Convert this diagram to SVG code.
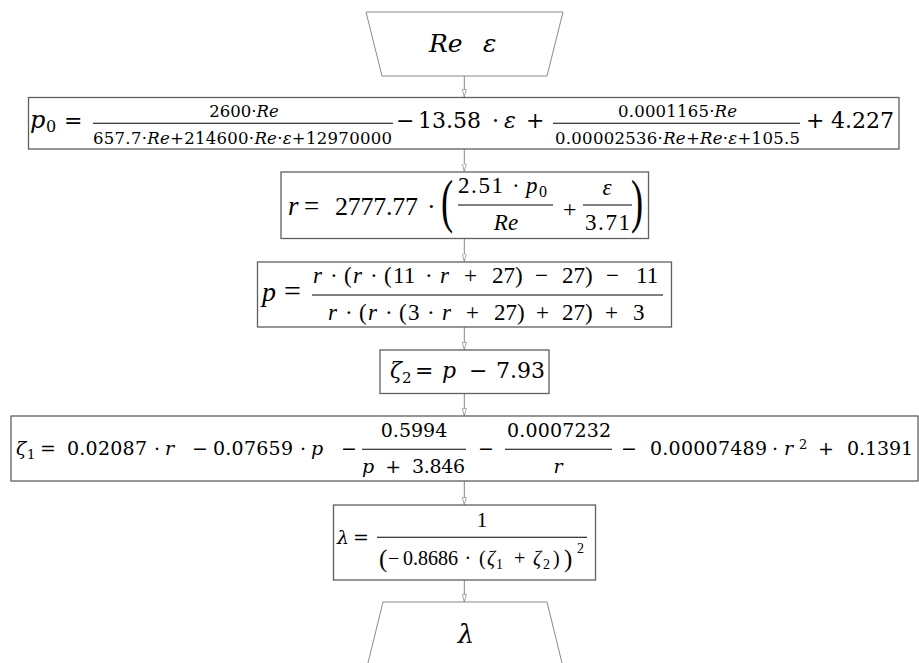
<svg xmlns="http://www.w3.org/2000/svg" width="919" height="663" viewBox="0 0 919 663">
<style>
text{font-family:"DejaVu Serif","Liberation Serif",serif;fill:#000;white-space:pre}
.l{font-family:"Liberation Serif","Times New Roman",serif}
.i{font-style:italic}
.box{fill:#fff;stroke:#5f5f5f;stroke-width:1.3}
.trap{fill:#fff;stroke:#8a8a8a;stroke-width:1}
.bar{stroke:#000;stroke-width:1.1}
.c{stroke:#858585;stroke-width:1;fill:none;marker-end:url(#ah)}
</style>
<defs>
<marker id="ah" viewBox="0 0 8 5" refX="8" refY="2.5" markerWidth="8" markerHeight="5" orient="auto" markerUnits="userSpaceOnUse">
<path d="M0.4,0.4 L7.6,2.5 L0.4,4.6 Z" fill="#fff" stroke="#858585" stroke-width="0.7"/>
</marker>
</defs>
<rect width="919" height="663" fill="#fff"/>

<g id="connectors">
<line class="c" x1="464.3" y1="76" x2="464.3" y2="97"/>
<line class="c" x1="464.3" y1="149" x2="464.3" y2="171.5"/>
<line class="c" x1="464.3" y1="238.5" x2="464.3" y2="261.5"/>
<line class="c" x1="464.3" y1="327" x2="464.3" y2="350"/>
<line class="c" x1="464.3" y1="393.5" x2="464.3" y2="416"/>
<line class="c" x1="464.3" y1="481" x2="464.3" y2="505"/>
<line class="c" x1="464.3" y1="580" x2="464.3" y2="602"/>
</g>

<g id="input">
<polygon class="trap" points="366,12 563,12 547,76 382,76"/>
<text font-size="25" y="52"><tspan class="i" x="429">Re</tspan><tspan class="i" x="483">ε</tspan></text>
</g>

<g id="p0">
<rect class="box" x="28.5" y="97.5" width="870.5" height="51.5"/>
<text font-size="24" y="128"><tspan class="i" x="30">p</tspan><tspan font-size="16" x="46" y="132">0</tspan><tspan font-size="22" x="64" y="128">=</tspan></text>
<text font-size="16.5" x="244" y="116.5" text-anchor="middle">2600·<tspan class="i">Re</tspan></text>
<line class="bar" x1="93" y1="123.3" x2="393" y2="123.3"/>
<text font-size="16.5" x="93" y="144" textLength="299" lengthAdjust="spacing">657.7·<tspan class="i">Re</tspan>+214600·<tspan class="i">Re</tspan>·<tspan class="i">ε</tspan>+12970000</text>
<text font-size="22" y="128"><tspan x="396">−</tspan><tspan x="418">13.58</tspan><tspan x="492">·</tspan><tspan class="i" x="504">ε</tspan><tspan x="526">+</tspan></text>
<text font-size="16.5" x="618" y="116.5" textLength="119" lengthAdjust="spacing">0.0001165·<tspan class="i">Re</tspan></text>
<line class="bar" x1="553" y1="123.3" x2="800" y2="123.3"/>
<text font-size="16.5" x="555" y="144" textLength="245" lengthAdjust="spacing">0.00002536·<tspan class="i">Re</tspan>+<tspan class="i">Re</tspan>·<tspan class="i">ε</tspan>+105.5</text>
<text font-size="22" y="128"><tspan x="806">+</tspan><tspan x="831">4.227</tspan></text>
</g>

<g id="r">
<rect class="box" x="281" y="172" width="367.5" height="66.5"/>
<text class="l" font-size="27" y="215"><tspan class="i" x="288">r</tspan><tspan x="304">=</tspan></text>
<text class="l" font-size="26" x="335" y="215" textLength="83" lengthAdjust="spacing">2777.77</text>
<text class="l" font-size="26" y="215"><tspan x="427">·</tspan></text>
<text class="l" font-size="28" transform="scale(1.3,2.12)" x="339.2" y="104.4">(</text>
<text class="l" font-size="23" x="458" y="193" textLength="45" lengthAdjust="spacing">2.51</text>
<text class="l" font-size="23" y="193"><tspan x="512">·</tspan><tspan class="i" x="526">p</tspan><tspan font-size="16" x="539" y="197">0</tspan></text>
<line class="bar" x1="458" y1="205" x2="553" y2="205"/>
<text class="l i" font-size="23" x="506" y="230" text-anchor="middle">Re</text>
<text class="l" font-size="24" x="563" y="217">+</text>
<line class="bar" x1="583" y1="205" x2="632" y2="205"/>
<text class="l i" font-size="23" x="607" y="195" text-anchor="middle">ε</text>
<text class="l" font-size="23" x="585" y="230" textLength="45" lengthAdjust="spacing">3.71</text>
<text class="l" font-size="28" transform="scale(1.3,2.12)" x="485.4" y="104.4">)</text>
</g>

<g id="p">
<rect class="box" x="257.5" y="262" width="414" height="65"/>
<text class="l" font-size="28" y="301"><tspan class="i" x="262">p</tspan><tspan font-size="30" x="284">=</tspan></text>
<line class="bar" x1="312" y1="295" x2="663" y2="295"/>
<text class="l" font-size="23" y="283"><tspan class="i" x="313">r</tspan><tspan x="330">·</tspan><tspan x="344">(</tspan><tspan class="i" x="353">r</tspan><tspan x="370">·</tspan><tspan x="384">(</tspan><tspan x="393">11</tspan><tspan x="425">·</tspan><tspan class="i" x="440">r</tspan><tspan x="464">+</tspan><tspan x="492">27</tspan><tspan x="515">)</tspan><tspan x="535">−</tspan><tspan x="562">27</tspan><tspan x="585">)</tspan><tspan x="606">−</tspan><tspan x="636">11</tspan></text>
<text class="l" font-size="23" y="320"><tspan class="i" x="328">r</tspan><tspan x="345">·</tspan><tspan x="359">(</tspan><tspan class="i" x="368">r</tspan><tspan x="385">·</tspan><tspan x="399">(</tspan><tspan x="408">3</tspan><tspan x="427">·</tspan><tspan class="i" x="442">r</tspan><tspan x="466">+</tspan><tspan x="494">27</tspan><tspan x="517">)</tspan><tspan x="536">+</tspan><tspan x="562">27</tspan><tspan x="585">)</tspan><tspan x="605">+</tspan><tspan x="633">3</tspan></text>
</g>

<g id="zeta2">
<rect class="box" x="380" y="350" width="169" height="43.5"/>
<text font-size="22" y="378"><tspan class="i" x="390">ζ</tspan><tspan font-size="15" x="402" y="383">2</tspan><tspan x="415" y="378">=</tspan><tspan class="i" x="442">p</tspan><tspan x="469">−</tspan><tspan x="496">7.93</tspan></text>
</g>

<g id="zeta1">
<rect class="box" x="11" y="416" width="907" height="65"/>
<text font-size="19" y="455"><tspan class="i" x="16">ζ</tspan><tspan font-size="13" x="27" y="459">1</tspan><tspan x="40" y="455">=</tspan></text>
<text font-size="19" x="67" y="455" textLength="80" lengthAdjust="spacing">0.02087</text>
<text font-size="19" y="455"><tspan x="154">·</tspan><tspan class="i" x="165">r</tspan><tspan x="192">−</tspan></text>
<text font-size="19" x="213" y="455" textLength="80" lengthAdjust="spacing">0.07659</text>
<text font-size="19" y="455"><tspan x="300">·</tspan><tspan class="i" x="311">p</tspan><tspan x="341">−</tspan></text>
<line class="bar" x1="362" y1="449.3" x2="466" y2="449.3"/>
<text font-size="19" x="414" y="437" text-anchor="middle">0.5994</text>
<text font-size="19" x="362" y="473" textLength="103" lengthAdjust="spacing"><tspan class="i">p</tspan>  +  3.846</text>
<text font-size="19" y="455"><tspan x="478">−</tspan></text>
<line class="bar" x1="505" y1="449.3" x2="612" y2="449.3"/>
<text font-size="19" x="507" y="437" textLength="104" lengthAdjust="spacing">0.0007232</text>
<text font-size="19" class="i" x="558" y="473" text-anchor="middle">r</text>
<text font-size="19" y="455"><tspan x="621">−</tspan></text>
<text font-size="19" x="650" y="455" textLength="117" lengthAdjust="spacing">0.00007489</text>
<text font-size="19" y="455"><tspan x="772">·</tspan><tspan class="i" x="784">r</tspan><tspan font-size="13" x="799" y="449">2</tspan><tspan x="818" y="455">+</tspan></text>
<text font-size="19" x="847" y="455" textLength="66" lengthAdjust="spacing">0.1391</text>
</g>

<g id="lambda">
<rect class="box" x="333.5" y="505" width="262" height="75"/>
<text font-size="19" y="544"><tspan class="i" x="337">λ</tspan><tspan x="353">=</tspan></text>
<line class="bar" x1="377" y1="537.3" x2="587" y2="537.3"/>
<text class="l" font-size="21" x="482" y="527" text-anchor="middle">1</text>
<text class="l" font-size="25" x="379" y="567.2">(</text>
<text class="l" font-size="20" y="565"><tspan x="388">−</tspan><tspan x="403">0.8686</tspan><tspan x="464.5">·</tspan><tspan x="479">(</tspan><tspan class="i" x="487">ζ</tspan><tspan font-size="14" x="496" y="569">1</tspan><tspan x="514" y="565">+</tspan><tspan class="i" x="533">ζ</tspan><tspan font-size="14" x="543" y="569">2</tspan><tspan x="553" y="565">)</tspan></text>
<text class="l" font-size="25" x="564" y="567.2">)</text>
<text class="l" font-size="14" x="577" y="553">2</text>
</g>

<g id="output">
<polygon class="trap" points="383,602 547,602 563,667 367,667"/>
<text font-size="26" class="i" x="466" y="643" text-anchor="middle">λ</text>
</g>
</svg>
